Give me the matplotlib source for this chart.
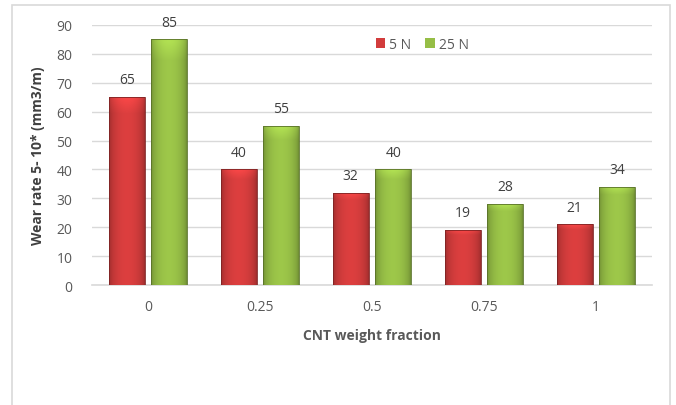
import matplotlib.pyplot as plt
import numpy as np
from matplotlib.patches import Rectangle
from matplotlib.colors import to_rgb

categories = ['0', '0.25', '0.5', '0.75', '1']
load_5n = [65, 40, 32, 19, 21]
load_25n = [85, 55, 40, 28, 34]
series_names = ['5 N', '25 N']

plt.rcParams['font.family'] = ['Open Sans', 'DejaVu Sans']

fig = plt.figure(figsize=(6.76, 4.06), dpi=100)
ax = fig.add_axes([92 / 676, 1 - 286 / 406, 560 / 676, 260 / 406])

# outer chart frame (bottom edge runs off the image)
fig.add_artist(Rectangle((12 / 676, -0.05), 658 / 676, 1.05 - 6 / 406,
                         transform=fig.transFigure, fill=False,
                         edgecolor='#D9D9D9', lw=1.2))

x = np.arange(len(categories))
w = 0.32
gap = 0.03
red = '#D23C3C'
green = '#96BE46'

b1 = ax.bar(x - w / 2 - gap, load_5n, w, color=red, label=series_names[0], zorder=3)
b2 = ax.bar(x + w / 2 + gap, load_25n, w, color=green, label=series_names[1], zorder=3)


def shade(bars, base):
    r, g, b = to_rgb(base)
    n = 64
    t = np.linspace(0, 1, n)
    # darker at the sides, lighter in the middle
    prof = 0.72 + 0.33 * np.sin(np.pi * t) ** 0.5
    for p in bars:
        x0, y0 = p.get_x(), p.get_y()
        wd, ht = p.get_width(), p.get_height()
        img = np.zeros((40, n, 3))
        for i, c in enumerate((r, g, b)):
            img[:, :, i] = np.clip(c * prof, 0, 1)
        # lighter bevel near the top
        top = np.clip(np.linspace(1.12, 1.0, 4), 0, None)
        img[:4] = np.clip(img[:4] * top[:, None, None], 0, 1)
        im = ax.imshow(img, extent=(x0, x0 + wd, y0, y0 + ht), aspect='auto',
                       zorder=3.5, interpolation='bilinear')
        im.set_clip_path(p)
        ax.add_patch(Rectangle((x0, y0), wd, ht, fill=False,
                               edgecolor=(r * 0.6, g * 0.6, b * 0.6), lw=0.6, zorder=4))


shade(b1, red)
shade(b2, green)

for bars in (b1, b2):
    for p in bars:
        ax.annotate(f'{p.get_height():g}', (p.get_x() + p.get_width() / 2, p.get_height()),
                    xytext=(0, 7), textcoords='offset points', ha='center', va='bottom',
                    fontsize=10, color='#404040')

ax.set_xlim(-0.5, len(categories) - 0.5)
ax.set_ylim(0, 90)
ax.set_yticks(range(0, 91, 10))
ax.set_xticks(x)
ax.set_xticklabels(categories)
ax.tick_params(length=0, labelsize=10, colors='#595959', pad=10)
ax.tick_params(axis='y', pad=14)
ax.yaxis.grid(True, color='#D9D9D9', lw=1, zorder=0)
for s in ('top', 'right', 'left'):
    ax.spines[s].set_visible(False)
ax.spines['bottom'].set_color('#D9D9D9')
ax.spines['bottom'].set_linewidth(1.2)

ax.set_xlabel('CNT weight fraction', fontsize=10, fontweight='bold', color='#595959', labelpad=10)
ax.set_ylabel('Wear rate 5- 10* (mm3/m)', fontsize=10, fontweight='bold', color='#404040', labelpad=8)

ax.legend(loc='center', bbox_to_anchor=(0.59, 0.925), ncol=2, frameon=False,
          fontsize=10, handlelength=0.7, handleheight=0.7, handletextpad=0.3,
          columnspacing=1.0, labelcolor='#595959')

fig.savefig('out.png', dpi=100)
